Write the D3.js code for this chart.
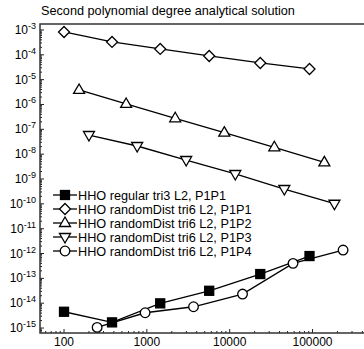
<!DOCTYPE html>
<html>
<head>
<meta charset="utf-8">
<script src="https://cdn.jsdelivr.net/npm/d3@7"></script>
<style>
  body { margin: 0; background: #fff; }
  text { font-family: "Liberation Sans", Arial, Helvetica, sans-serif; }
</style>
</head>
<body>
<div id="chart"></div>
<script>
// values
var names = [
  "HHO regular tri3 L2, P1P1",
  "HHO randomDist tri6 L2, P1P1",
  "HHO randomDist tri6 L2, P1P2",
  "HHO randomDist tri6 L2, P1P3",
  "HHO randomDist tri6 L2, P1P4"
];
var symbols = ["square", "diamond", "up", "down", "circle"];

var x_p1p1 = [100, 380, 1450, 5660, 23400, 92000];
var x_p1p2 = [152, 562, 2200, 8610, 34600, 139000];
var x_p1p3 = [200, 764, 2985, 11690, 45700, 184000];
var x_p1p4 = [251, 953, 3660, 14300, 58200, 234000];

var y_regular = [4.52e-15, 1.69e-15, 9.84e-15, 3.16e-14, 1.49e-13, 7.9e-13];
var y_p1p1 = [8.3e-4, 3.29e-4, 1.72e-4, 8.97e-5, 4.69e-5, 2.69e-5];
var y_p1p2 = [3.84e-6, 1.05e-6, 2.78e-7, 7.31e-8, 1.89e-8, 4.69e-9];
var y_p1p3 = [5.9e-8, 2.13e-8, 5.81e-9, 1.59e-9, 3.95e-10, 1.01e-10];
var y_p1p4 = [1.06e-15, 4.12e-15, 7.18e-15, 2.33e-14, 4.02e-13, 1.38e-12];

var xTicks = [100, 1000, 10000, 100000];
var yExps = [-3, -4, -5, -6, -7, -8, -9, -10, -11, -12, -13, -14, -15];

var series = [
  {xs: x_p1p1, ys: y_regular},
  {xs: x_p1p1, ys: y_p1p1},
  {xs: x_p1p2, ys: y_p1p2},
  {xs: x_p1p3, ys: y_p1p3},
  {xs: x_p1p4, ys: y_p1p4}
];

var W = 364, H = 349;
var pl = 40, pt = 24, pr = 368, pb = 333;

var svg = d3.select("#chart").append("svg")
  .attr("width", W).attr("height", H);

var x = d3.scaleLog().domain([Math.pow(10, 1.71), Math.pow(10, 5.67)]).range([pl, pr]);
var y = d3.scaleLog().domain([Math.pow(10, -2.76), Math.pow(10, -15.2)]).range([pt, pb]);

// minor ticks
var xMinor = [], yMinor = [];
for (var e = 1; e <= 5; e++) for (var k = 2; k <= 9; k++) {
  var v = k * Math.pow(10, e);
  if (v > x.domain()[0] && v < x.domain()[1]) xMinor.push(v);
}
for (var e2 = -16; e2 <= -3; e2++) for (var k2 = 2; k2 <= 9; k2++) {
  var v2 = k2 * Math.pow(10, e2);
  if (v2 < y.domain()[0] && v2 > y.domain()[1]) yMinor.push(v2);
}

var ax = svg.append("g").attr("stroke", "#222");
ax.selectAll(".xmin").data(xMinor).enter().append("line")
  .attr("x1", function(d) { return x(d); }).attr("x2", function(d) { return x(d); })
  .attr("y1", pb).attr("y2", pb - 2).attr("stroke-width", 1);
ax.selectAll(".xmaj").data(xTicks).enter().append("line")
  .attr("x1", function(d) { return x(d); }).attr("x2", function(d) { return x(d); })
  .attr("y1", pb).attr("y2", pb - 4).attr("stroke-width", 1);
ax.selectAll(".ymin").data(yMinor).enter().append("line")
  .attr("y1", function(d) { return y(d); }).attr("y2", function(d) { return y(d); })
  .attr("x1", pl).attr("x2", pl + 2).attr("stroke-width", 1);
ax.selectAll(".ymaj").data(yExps).enter().append("line")
  .attr("y1", function(d) { return y(Math.pow(10, d)); }).attr("y2", function(d) { return y(Math.pow(10, d)); })
  .attr("x1", pl).attr("x2", pl + 4).attr("stroke-width", 1);

// frame
svg.append("path")
  .attr("d", "M" + pr + "," + pt + "H" + pl + "V" + pb + "H" + pr)
  .attr("fill", "none").attr("stroke", "#333").attr("stroke-width", 1.5);

// tick labels
svg.selectAll(".xl").data(xTicks).enter().append("text")
  .attr("x", function(d) { return x(d); }).attr("y", 346)
  .attr("text-anchor", "middle").attr("font-size", 12)
  .text(function(d) { return d; });

var yl = svg.selectAll(".yl").data(yExps).enter().append("text")
  .attr("x", 36).attr("y", function(d) { return y(Math.pow(10, d)) + 4; })
  .attr("text-anchor", "end").attr("font-size", 12);
yl.append("tspan").text("10");
yl.append("tspan").attr("font-size", 9).attr("dy", -5).text(function(d) { return d; });

// title
svg.append("text").attr("x", 41).attr("y", 15).attr("font-size", 12.7)
  .text("Second polynomial degree analytical solution");

var line = d3.line().x(function(d) { return x(d[0]); }).y(function(d) { return y(d[1]); });

function marker(g, type, cx, cy) {
  var m;
  if (type === "square") {
    m = g.append("rect").attr("x", cx - 4.5).attr("y", cy - 4.5).attr("width", 9).attr("height", 9)
      .attr("fill", "#000");
  } else if (type === "circle") {
    m = g.append("circle").attr("cx", cx).attr("cy", cy).attr("r", 4.8).attr("fill", "#fff");
  } else if (type === "diamond") {
    m = g.append("path").attr("d", "M" + cx + "," + (cy - 5.5) + "L" + (cx + 5.5) + "," + cy +
      "L" + cx + "," + (cy + 5.5) + "L" + (cx - 5.5) + "," + cy + "Z").attr("fill", "#fff");
  } else if (type === "up") {
    m = g.append("path").attr("d", "M" + cx + "," + (cy - 6) + "L" + (cx + 5.5) + "," + (cy + 3.5) +
      "L" + (cx - 5.5) + "," + (cy + 3.5) + "Z").attr("fill", "#fff");
  } else {
    m = g.append("path").attr("d", "M" + cx + "," + (cy + 6) + "L" + (cx + 5.5) + "," + (cy - 3.5) +
      "L" + (cx - 5.5) + "," + (cy - 3.5) + "Z").attr("fill", "#fff");
  }
  m.attr("stroke", "#000").attr("stroke-width", 1.3);
}

var plot = svg.append("g");
series.forEach(function(s, i) {
  var pts = s.xs.map(function(d, j) { return [d, s.ys[j]]; });
  var g = plot.append("g");
  g.append("path").datum(pts).attr("d", line)
    .attr("fill", "none").attr("stroke", "#000").attr("stroke-width", 1.3);
  pts.forEach(function(p) { marker(g, symbols[i], x(p[0]), y(p[1])); });
});

// legend
var leg = svg.append("g");
names.forEach(function(n, i) {
  var ly = 195 + i * 14;
  leg.append("line").attr("x1", 53).attr("x2", 77).attr("y1", ly).attr("y2", ly)
    .attr("stroke", "#000").attr("stroke-width", 1.3);
  marker(leg, symbols[i], 65, ly);
  leg.append("text").attr("x", 78).attr("y", ly + 4.5).attr("font-size", 12.7).text(n);
});
</script>
</body>
</html>
